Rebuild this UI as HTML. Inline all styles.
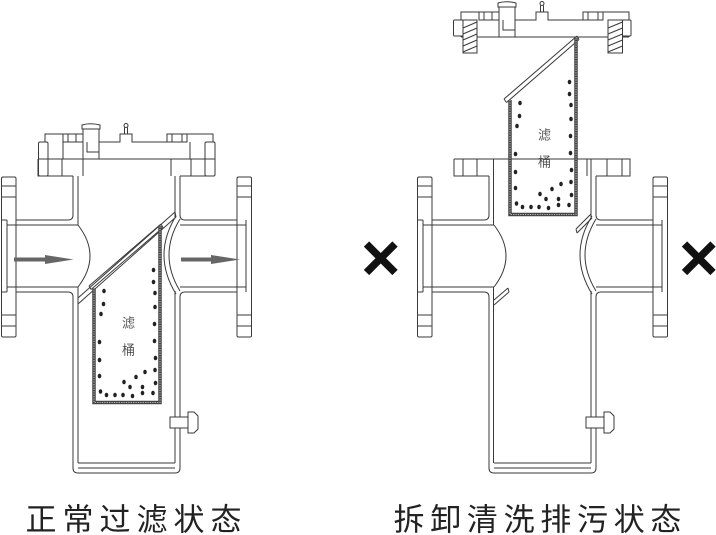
<!DOCTYPE html>
<html><head><meta charset="utf-8"><style>
html,body{margin:0;padding:0;background:#fff;width:716px;height:535px;overflow:hidden}
svg{display:block}
</style></head><body>
<svg width="716" height="535" viewBox="0 0 716 535" xmlns="http://www.w3.org/2000/svg">
<rect width="716" height="535" fill="#fff"/>

<!-- ================= LEFT FILTER ================= -->
<g fill="none" stroke="#3a3a3a" stroke-width="1">
  <path d="M38,159H214V176H180M73,176H38V159"/>
  <path d="M47,159V176M62,159V176M83,159V176M171,159V176M191,159V176M206,159V176"/>
  <path d="M73,176V215Q73,220 68,220H16"/>
  <path d="M16,292H68Q73,292 73,297V468Q73,473 78,473H175Q180,473 180,468V297Q180,292 185,292H237"/>
  <path d="M237,220H185Q180,220 180,215V176"/>
  <path d="M78,176V225M78,287V463M175,176V217M175,291V463"/>
  <path d="M78,463H175M78,468H175"/>
  <path d="M7,225H78M7,287H78M180,225H246M180,287H246"/>
  <path d="M78,225Q102,256 78,287"/>
  <path d="M176,216Q152,255 176,294"/>
  <path d="M180,219Q158,255 180,291"/>
  <rect x="1.5" y="177" width="14.5" height="160" rx="1.5"/>
  <path d="M7,220V292M1.5,220H7M1.5,292H7"/>
  <path d="M1.5,186H16M1.5,197H16M1.5,315H16M1.5,326H16"/>
  <rect x="237" y="177" width="14.5" height="160" rx="1.5"/>
  <path d="M246,220V292"/>
  <path d="M237,186H251.5M237,197H251.5M237,315H251.5M237,326H251.5"/>
  <path d="M170,417H189V428H170Z" fill="#fff"/>
  <path d="M188,412H194L198,416V429L194,433H188Z" fill="#fff"/>
  <path d="M45,159V134H83M99,142H120V134H132V142H167V134H213V159"/>
  <path d="M63,134V142H83M68,134V142M76,134V142"/>
  <path d="M187,134V142H167M172,134V142M182,134V142"/>
  <path d="M63,142V159M190,142V159"/>
  <path d="M83,159V129H99V159M87,142V152H99"/>
  <path d="M82,129V125Q90,122.5 100,125V129Z" fill="#fff"/>
  <path d="M124.5,134V127.5M127.5,134V127.5"/>
  <circle cx="126" cy="125.5" r="2"/>
  <rect x="38.5" y="142" width="9.5" height="34" rx="1.5" fill="#fff"/>
  <path d="M38.5,159H48"/>
  <rect x="205" y="142" width="10" height="34" rx="1.5" fill="#fff"/>
  <path d="M205,159H215"/>
  <path d="M78,298L175,212M78,304L176,217M175,212L176,217"/>
  <path d="M89,286L161,224M91,289.5L163,227.5M89,286L91,289.5M161,224L163,227.5"/>
</g>
<g fill="#666">
  <rect x="14" y="257.5" width="32" height="4"/>
  <polygon points="45,255 73.5,259.5 45,264"/>
  <rect x="181" y="257.5" width="31" height="4"/>
  <polygon points="211,255 240,259.5 211,264"/>
</g>
<g>
  <path d="M94,288V402.5H160V226" fill="none" stroke="#444" stroke-width="3.5"/>
  <path d="M94,288V402.5H160V226" fill="none" stroke="#bdbdbd" stroke-width="1.1" stroke-dasharray="1.2 1.2"/>
  <g fill="#222">
    <ellipse cx="104" cy="291" rx="1.8" ry="2.3"/><ellipse cx="103.5" cy="304" rx="1.8" ry="2.3"/>
    <ellipse cx="101" cy="314" rx="1.8" ry="2.3"/><ellipse cx="99.5" cy="342" rx="1.8" ry="2.3"/>
    <ellipse cx="99.5" cy="360" rx="1.8" ry="2.3"/><ellipse cx="99.5" cy="376" rx="1.8" ry="2.3"/>
    <ellipse cx="153.5" cy="270" rx="1.8" ry="2.3"/><ellipse cx="153.5" cy="282" rx="1.8" ry="2.3"/>
    <ellipse cx="155" cy="293" rx="1.8" ry="2.3"/><ellipse cx="155" cy="307" rx="1.8" ry="2.3"/>
    <ellipse cx="154.5" cy="324" rx="1.8" ry="2.3"/><ellipse cx="154.5" cy="341" rx="1.8" ry="2.3"/>
    <ellipse cx="155.5" cy="358" rx="1.8" ry="2.3"/><ellipse cx="155" cy="370" rx="1.8" ry="2.3"/>
    <ellipse cx="155.5" cy="383" rx="1.8" ry="2.3"/><ellipse cx="153" cy="393" rx="1.8" ry="2.3"/>
    <ellipse cx="100.5" cy="391.5" rx="1.8" ry="2.3"/><ellipse cx="106.5" cy="395" rx="1.8" ry="2.3"/>
    <ellipse cx="115" cy="395" rx="1.8" ry="2.3"/><ellipse cx="123" cy="395" rx="1.8" ry="2.3"/>
    <ellipse cx="132.5" cy="396" rx="1.8" ry="2.3"/><ellipse cx="142.5" cy="393" rx="1.8" ry="2.3"/>
    <ellipse cx="124" cy="382" rx="1.8" ry="2.3"/><ellipse cx="130" cy="387" rx="1.8" ry="2.3"/>
    <ellipse cx="136" cy="377" rx="1.8" ry="2.3"/><ellipse cx="145" cy="372" rx="1.8" ry="2.3"/>
    <ellipse cx="142.5" cy="387" rx="1.8" ry="2.3"/>
  </g>
  <text x="128.5" y="327.5" font-family="'Liberation Sans','Noto Sans CJK SC',sans-serif" font-size="13" fill="#555" text-anchor="middle">滤</text>
  <text x="128.5" y="354.5" font-family="'Liberation Sans','Noto Sans CJK SC',sans-serif" font-size="13" fill="#555" text-anchor="middle">桶</text>
</g>

<!-- ================= RIGHT FILTER ================= -->
<g transform="translate(416,0)" fill="none" stroke="#3a3a3a" stroke-width="1">
  <path d="M38,159H214V176H180M73,176H38V159"/>
  <path d="M47,159V176M61,159V176M171,159V176M191,159V176M206,159V176"/>
  <path d="M73,176V215Q73,220 68,220H16"/>
  <path d="M16,292H68Q73,292 73,297V468Q73,473 78,473H175Q180,473 180,468V297Q180,292 185,292H237"/>
  <path d="M237,220H185Q180,220 180,215V176"/>
  <path d="M77.5,159V225M77.5,287V463M175,159V217M175,291V463"/>
  <path d="M78,463H175M78,468H175"/>
  <path d="M7,225H78M7,287H78M180,225H246M180,287H246"/>
  <path d="M78,225Q102,256 78,287"/>
  <path d="M176,216Q152,255 176,294"/>
  <path d="M180,219Q158,255 180,291"/>
  <rect x="1.5" y="177" width="14.5" height="160" rx="1.5"/>
  <path d="M7,220V292M1.5,220H7M1.5,292H7"/>
  <path d="M1.5,186H16M1.5,197H16M1.5,315H16M1.5,326H16"/>
  <rect x="237" y="177" width="14.5" height="160" rx="1.5"/>
  <path d="M246,220V292"/>
  <path d="M237,186H251.5M237,197H251.5M237,315H251.5M237,326H251.5"/>
  <path d="M170,417H189V428H170Z" fill="#fff"/>
  <path d="M188,412H194L198,416V429L194,433H188Z" fill="#fff"/>
  <path d="M78,300L92,288M78,305L93,292M92,288L93,292"/>
  <path d="M160,229L175,214M161,233L176,218M160,229L161,233"/>
</g>

<g transform="translate(416,-122)" fill="none" stroke="#3a3a3a" stroke-width="1">
  <path d="M45,159V134H83M99,142H120V134H132V142H167V134H213V159"/>
  <path d="M45,159H213"/>
  <path d="M63,134V142H83M68,134V142M76,134V142"/>
  <path d="M187,134V142H167M172,134V142M182,134V142"/>
  <path d="M83,159V129H99V159M87,142V152H99"/>
  <path d="M82,129V125Q90,122.5 100,125V129Z" fill="#fff"/>
  <path d="M124.5,134V127.5M127.5,134V127.5"/>
  <circle cx="126" cy="125.5" r="2"/>
  <rect x="47" y="142" width="14" height="33" fill="#fff"/>
  <path d="M47,150L61,144M47,156L61,150M47,162L61,156M47,168L61,162M47,174L61,168"/>
  <rect x="192" y="142" width="14.5" height="33" fill="#fff"/>
  <path d="M192,150L206.5,144M192,156L206.5,150M192,162L206.5,156M192,168L206.5,162M192,174L206.5,168"/>
  <rect x="37.5" y="142" width="9.5" height="16" rx="1" fill="#fff"/>
  <rect x="206.5" y="142" width="8.5" height="16" rx="1" fill="#fff"/>
</g>

<g transform="translate(416,-188)">
  <g fill="none" stroke="#3a3a3a" stroke-width="1">
    <path d="M88,287L161,224M90.5,290.5L163,227.5M88,287L90.5,290.5M161,224L163,227.5"/>
  </g>
  <path d="M94,288V402.5H160V226" fill="none" stroke="#444" stroke-width="3.5"/>
  <path d="M94,288V402.5H160V226" fill="none" stroke="#bdbdbd" stroke-width="1.1" stroke-dasharray="1.2 1.2"/>
  <g fill="#222">
    <ellipse cx="104" cy="291" rx="1.8" ry="2.3"/><ellipse cx="103.5" cy="304" rx="1.8" ry="2.3"/>
    <ellipse cx="101" cy="314" rx="1.8" ry="2.3"/><ellipse cx="99.5" cy="342" rx="1.8" ry="2.3"/>
    <ellipse cx="99.5" cy="360" rx="1.8" ry="2.3"/><ellipse cx="99.5" cy="376" rx="1.8" ry="2.3"/>
    <ellipse cx="153.5" cy="270" rx="1.8" ry="2.3"/><ellipse cx="153.5" cy="282" rx="1.8" ry="2.3"/>
    <ellipse cx="155" cy="293" rx="1.8" ry="2.3"/><ellipse cx="155" cy="307" rx="1.8" ry="2.3"/>
    <ellipse cx="154.5" cy="324" rx="1.8" ry="2.3"/><ellipse cx="154.5" cy="341" rx="1.8" ry="2.3"/>
    <ellipse cx="155.5" cy="358" rx="1.8" ry="2.3"/><ellipse cx="155" cy="370" rx="1.8" ry="2.3"/>
    <ellipse cx="155.5" cy="383" rx="1.8" ry="2.3"/><ellipse cx="153" cy="393" rx="1.8" ry="2.3"/>
    <ellipse cx="100.5" cy="391.5" rx="1.8" ry="2.3"/><ellipse cx="106.5" cy="395" rx="1.8" ry="2.3"/>
    <ellipse cx="115" cy="395" rx="1.8" ry="2.3"/><ellipse cx="123" cy="395" rx="1.8" ry="2.3"/>
    <ellipse cx="132.5" cy="396" rx="1.8" ry="2.3"/><ellipse cx="142.5" cy="393" rx="1.8" ry="2.3"/>
    <ellipse cx="124" cy="382" rx="1.8" ry="2.3"/><ellipse cx="130" cy="387" rx="1.8" ry="2.3"/>
    <ellipse cx="136" cy="377" rx="1.8" ry="2.3"/><ellipse cx="145" cy="372" rx="1.8" ry="2.3"/>
    <ellipse cx="142.5" cy="387" rx="1.8" ry="2.3"/>
  </g>
  <text x="128.5" y="327.5" font-family="'Liberation Sans','Noto Sans CJK SC',sans-serif" font-size="13" fill="#555" text-anchor="middle">滤</text>
  <text x="128.5" y="354.5" font-family="'Liberation Sans','Noto Sans CJK SC',sans-serif" font-size="13" fill="#555" text-anchor="middle">桶</text>
</g>

<!-- X marks -->
<g stroke="#111" stroke-width="7.5" stroke-linecap="butt">
  <path d="M366.5,244L395,272.5M395,244L366.5,272.5"/>
  <path d="M684.5,244L713,272.5M713,244L684.5,272.5"/>
</g>

<g font-family="'Liberation Sans','Noto Sans CJK SC',sans-serif" font-size="31" fill="#222">
  <text x="25.5" y="530.5">正</text>
  <text x="62.5" y="530.5">常</text>
  <text x="99.5" y="530.5">过</text>
  <text x="136.5" y="530.5">滤</text>
  <text x="173.5" y="530.5">状</text>
  <text x="210.5" y="530.5">态</text>

  <text x="393.5" y="530.5">拆</text>
  <text x="430.2" y="530.5">卸</text>
  <text x="466.9" y="530.5">清</text>
  <text x="503.6" y="530.5">洗</text>
  <text x="540.3" y="530.5">排</text>
  <text x="577" y="530.5">污</text>
  <text x="613.7" y="530.5">状</text>
  <text x="650.4" y="530.5">态</text>
</g>
</svg>
</body></html>
